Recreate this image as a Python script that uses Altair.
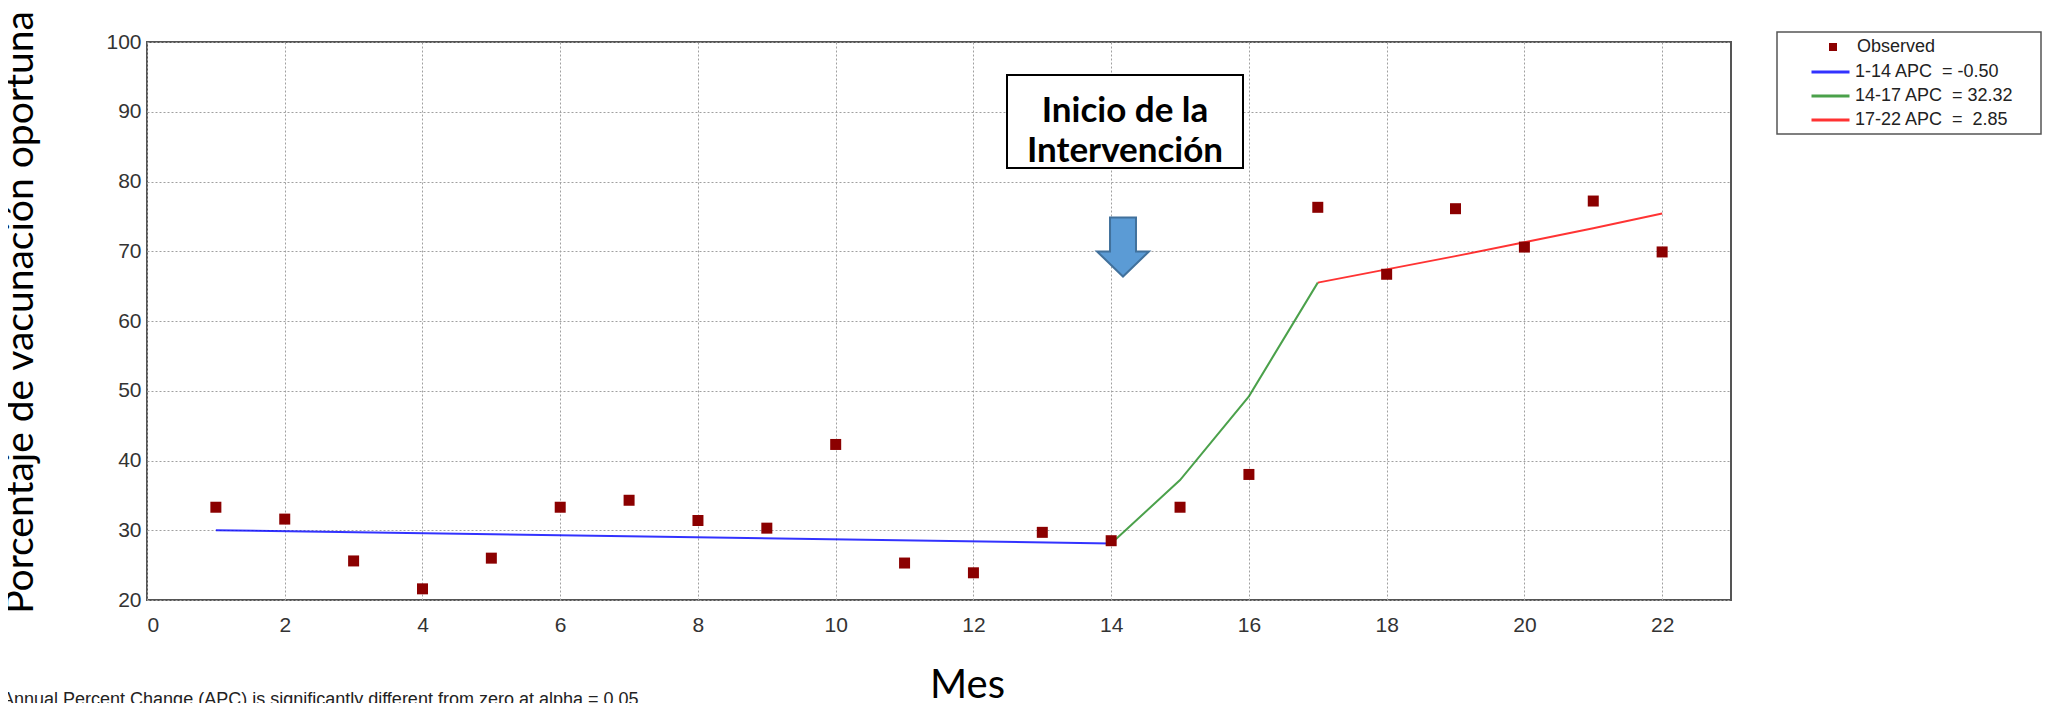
import altair as alt
import pandas as pd

# ---- data ----
months = list(range(1, 23))
observed = [33.3, 31.6, 25.6, 21.6, 26.0, 33.3, 34.3, 31.4, 30.3, 42.3, 25.3,
            23.9, 29.7, 28.5, 33.3, 38.0, 76.3, 66.7, 76.1, 70.6, 77.2, 69.9]

seg_labels = ["1-14 APC\u00a0 = -0.50", "14-17 APC\u00a0 = 32.32", "17-22 APC\u00a0 = \u00a02.85"]
seg_colors = ["#0000FF", "#1E8A1E", "#FF0000"]
seg1_x = [1, 14]
seg1_y = [30.0, 28.1]
seg2_x = [14, 15, 16, 17]
seg2_y = [28.1, 37.2, 49.2, 65.5]
seg3_x = [17, 18, 19, 20, 21, 22]
seg3_y = [65.5, 67.4, 69.3, 71.3, 73.3, 75.4]

x_ticks = list(range(0, 23, 2))
y_ticks = list(range(20, 101, 10))

obs_df = pd.DataFrame({"Mes": months, "valor": observed, "serie": ["Observed"] * len(months)})
fit_df = pd.concat([
    pd.DataFrame({"Mes": seg1_x, "valor": seg1_y, "tramo": seg_labels[0]}),
    pd.DataFrame({"Mes": seg2_x, "valor": seg2_y, "tramo": seg_labels[1]}),
    pd.DataFrame({"Mes": seg3_x, "valor": seg3_y, "tramo": seg_labels[2]}),
], ignore_index=True)
one = pd.DataFrame({"k": [0]})

W, H = 1584, 558

x_enc = alt.X("Mes:Q", scale=alt.Scale(domain=[0, 23], nice=False, zero=False),
              axis=alt.Axis(values=x_ticks, title="Mes", labelPadding=14,
                            titleX=820, titleY=97, titleBaseline="alphabetic",
                            titleAnchor="start", titleAlign="center", titleFontSize=40))
y_enc = alt.Y("valor:Q", scale=alt.Scale(domain=[20, 100], nice=False, zero=False),
              axis=alt.Axis(values=y_ticks, title="Porcentaje de vacunación oportuna",
                            labelPadding=6, titleX=-115, titleY=270, titleAngle=-90,
                            titleBaseline="alphabetic", titleAlign="center",
                            titleAnchor="start"))

legend_box = alt.Chart(one).mark_rect(fill="white", stroke="#555555", strokeWidth=1.5).encode(
    x=alt.value(1630), x2=alt.value(1894), y=alt.value(-10), y2=alt.value(92))

lines = alt.Chart(fit_df).mark_line(strokeWidth=2, opacity=0.8).encode(
    x=x_enc, y=y_enc,
    order="Mes:Q",
    color=alt.Color("tramo:N", scale=alt.Scale(domain=seg_labels, range=seg_colors),
                    legend=alt.Legend(title=None, orient="none", legendX=1663, legendY=18,
                                      symbolType="stroke", symbolSize=1444, symbolStrokeWidth=3,
                                      labelOffset=4, rowPadding=0, clipHeight=24, padding=0,
                                      labelFont="Liberation Sans", labelFontSize=18,
                                      labelColor="#222222")))

points = alt.Chart(obs_df).mark_point(filled=True, size=121, opacity=1, color="#8B0000").encode(
    x=x_enc, y=y_enc,
    shape=alt.Shape("serie:N", scale=alt.Scale(domain=["Observed"], range=["square"]),
                    legend=alt.Legend(title=None, orient="none", legendX=1677, legendY=-4,
                                      symbolFillColor="#8B0000", symbolStrokeColor="#8B0000",
                                      symbolSize=64, labelOffset=15, padding=0,
                                      labelFont="Liberation Sans", labelFontSize=18,
                                      labelColor="#222222")))

note_box = alt.Chart(one).mark_rect(fill="white", stroke="black", strokeWidth=2).encode(
    x=alt.value(860), x2=alt.value(1096), y=alt.value(33), y2=alt.value(126))

note_l1 = alt.Chart(one).mark_text(font="Lato", fontWeight="bold", fontSize=35, align="center",
                                   baseline="alphabetic", color="black").encode(
    x=alt.value(978), y=alt.value(80), text=alt.value("Inicio de la"))
note_l2 = alt.Chart(one).mark_text(font="Lato", fontWeight="bold", fontSize=35, align="center",
                                   baseline="alphabetic", color="black").encode(
    x=alt.value(978), y=alt.value(120), text=alt.value("Intervención"))

arrow_path = "M -0.44 -1 L 0.44 -1 L 0.44 0.153 L 0.88 0.153 L 0 1 L -0.88 0.153 L -0.44 0.153 Z"
arrow = alt.Chart(one).mark_point(shape=arrow_path, size=3481, filled=True, fill="#5B9BD5",
                                  stroke="#41719C", strokeWidth=2, opacity=1).encode(
    x=alt.value(976), y=alt.value(205))

footnote = alt.Chart(one).mark_text(font="Liberation Sans", fontSize=18, align="left",
                                    baseline="alphabetic", color="#222222").encode(
    x=alt.value(-145), y=alt.value(663),
    text=alt.value("Annual Percent Change (APC) is significantly different from zero at alpha = 0.05"))

chart = alt.layer(legend_box, lines, points, note_box, note_l1, note_l2, arrow, footnote).resolve_legend(
    color="independent", shape="independent"
).properties(
    width=W, height=H,
    autosize=alt.AutoSizeParams(type="none"),
    padding={"left": 139, "top": 34, "right": 323, "bottom": 103},
    background="white",
).configure_view(
    stroke="#555555", strokeWidth=2
).configure_axis(
    labelFont="Liberation Sans", labelFontSize=21, labelColor="#333333",
    grid=True, gridColor="#a0a0a0", gridDash=[2, 2], gridWidth=1,
    domain=False, ticks=False,
    titleFont="Lato", titleFontSize=39, titleFontWeight="normal", titleColor="black",
)

chart.save("out.html", embed_options={"renderer": "svg", "actions": False})
